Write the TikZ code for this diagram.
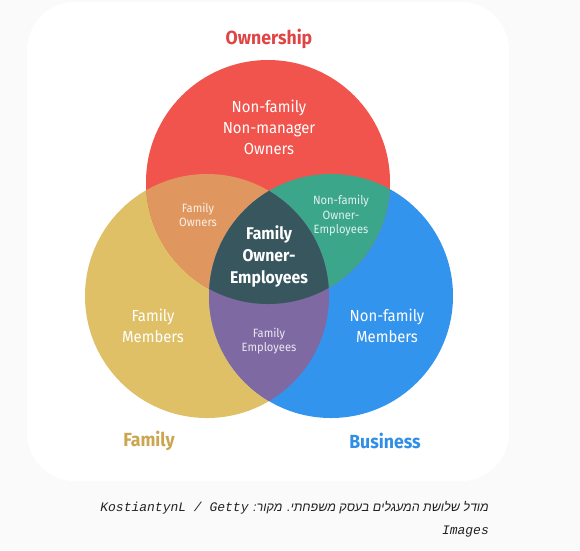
\documentclass[tikz,border=0pt]{standalone}
\usepackage{fontspec}
\setmainfont{Fira Sans}[FakeStretch=0.93]
\newfontfamily\hebfont[Script=Hebrew]{Liberation Sans}
\newfontfamily\capfont{Liberation Mono}
\TeXXeTstate=1
\usepackage{tikz}

\definecolor{pagegray}{HTML}{FAFAFA}
\definecolor{ownred}{HTML}{F0544C}
\definecolor{famyellow}{HTML}{E0C066}
\definecolor{busblue}{HTML}{3394EE}
\definecolor{fownorange}{HTML}{E0975F}
\definecolor{nfowngreen}{HTML}{3BA68A}
\definecolor{fempurple}{HTML}{7E69A2}
\definecolor{coredark}{HTML}{37565E}
\definecolor{ownlabel}{HTML}{E04444}
\definecolor{famlabel}{HTML}{CBA550}
\definecolor{buslabel}{HTML}{2F8EE6}
\definecolor{captext}{HTML}{222222}

\begin{document}
\begin{tikzpicture}[x=1pt,y=-1pt,
  big/.style={text=white, align=center, font=\fontsize{16}{21}\selectfont},
  small/.style={text=white, text opacity=0.85, align=center, font=\fontsize{12}{14.5}\selectfont},
  core/.style={text=white, align=center, font=\fontsize{17}{22}\selectfont\bfseries},
  title/.style={font=\fontsize{19}{22}\selectfont\bfseries}]
\useasboundingbox (0,0) rectangle (580,550);
\fill[pagegray] (0,0) rectangle (580,550);
\fill[white, rounded corners=48pt] (27,2) rectangle (509,481);

% circle centres
\coordinate (R) at (268,182);
\coordinate (Y) at (207,296);
\coordinate (B) at (331,296);
\def\rr{122}

\fill[famyellow] (Y) circle[radius=\rr];
\fill[busblue] (B) circle[radius=\rr];
\fill[ownred] (R) circle[radius=\rr];

% overlaps
\begin{scope}
\clip (R) circle[radius=\rr];
\fill[fownorange] (Y) circle[radius=\rr];
\fill[nfowngreen] (B) circle[radius=\rr];
\end{scope}
\begin{scope}
\clip (Y) circle[radius=\rr];
\fill[fempurple] (B) circle[radius=\rr];
\clip (B) circle[radius=\rr];
\fill[coredark] (R) circle[radius=\rr];
\end{scope}

% labels
\node[title, text=ownlabel] (own) at (269,39) {Ownership};
\node[title, text=famlabel] (fam) at (149,441) {Family};
\node[title, text=buslabel] (bus) at (385,441) {Business};

\node[big] (nfnmo) at (269,127) {Non-family\\Non-manager\\Owners};
\node[big] (fm) at (153,326) {Family\\Members};
\node[big] (nfm) at (387,326) {Non-family\\Members};
\node[small] (fo) at (198,215) {Family\\Owners};
\node[small] (nfoe) at (341,216) {Non-family\\Owner-\\Employees};
\node[small] (fe) at (269,341) {Family\\Employees};
\node[core] (foe) at (269,256) {Family\\Owner-\\Employees};

% caption
\node[anchor=east, text=captext, inner sep=0pt] (cap1) at (489,508)
  {\beginR\hebfont\itshape\fontsize{12.5}{16}\selectfont מודל שלושת המעגלים בעסק משפחתי. מקור: \beginL\capfont\itshape\fontsize{13}{16}\selectfont KostiantynL / Getty\endL\endR};
\node[anchor=east, text=captext, inner sep=0pt] (cap2) at (489,532)
  {\capfont\itshape\fontsize{13}{16}\selectfont Images};

\end{tikzpicture}
\end{document}
